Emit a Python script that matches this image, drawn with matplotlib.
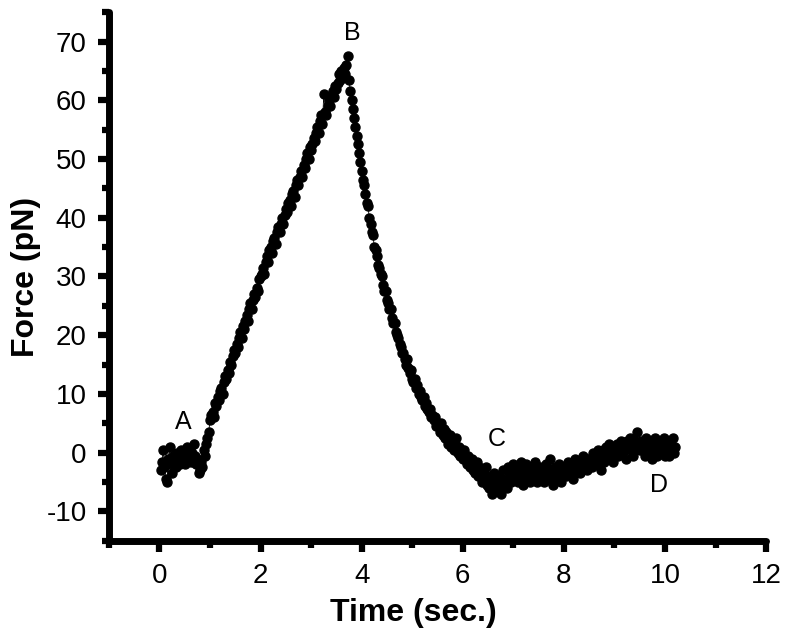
import numpy as np
import matplotlib
matplotlib.use('Agg')
import matplotlib.pyplot as plt
from matplotlib.ticker import MultipleLocator

plt.rcParams['font.family'] = ['Liberation Sans', 'DejaVu Sans']
plt.rcParams['axes.unicode_minus'] = False

# force trace (pN), sampled every 0.025 s starting at t = 0.025 s
dt = 0.025
force = [
    -3.0, -1.5, 0.5, -2.5, -4.5, -5.0, -1.0, 1.0, -2.0, -3.5, -0.5, -1.5, -2.5, 0.0, -1.0, -2.0, 0.5, -1.5, -0.5, -2.0,
    -0.5, 1.0, -1.0, 0.5, -1.5, 0.0, 1.5, -0.5, -2.0, -1.0, -3.5, -3.0, -1.5, -2.5, 0.5, -0.5, 1.5, 2.5, 3.5, 5.5,
    6.5, 7.0, 6.0, 8.5, 8.0, 9.5, 9.0, 10.5, 11.0, 10.0, 12.0, 13.0, 12.5, 14.0, 13.5, 15.5, 15.0, 16.5, 17.5, 17.0,
    18.5, 18.0, 19.5, 20.5, 19.5, 21.5, 21.0, 22.5, 23.5, 22.5, 24.5, 25.5, 24.5, 26.0, 27.0, 26.5, 28.0, 27.5, 29.5, 30.0,
    30.5, 31.5, 30.5, 32.5, 33.5, 32.5, 34.5, 35.0, 34.0, 36.0, 36.5, 35.5, 37.5, 38.5, 37.5, 39.0, 40.0, 39.0, 40.5, 41.5,
    41.0, 42.5, 43.0, 42.0, 44.0, 44.5, 43.5, 45.5, 46.5, 45.5, 47.0, 48.0, 47.0, 49.0, 48.5, 50.0, 51.0, 50.0, 52.0, 51.5,
    52.5, 53.5, 53.0, 54.5, 55.5, 54.5, 56.5, 57.5, 56.0, 61.0, 58.0, 57.5, 59.0, 60.0, 59.0, 60.5, 61.5, 60.5, 62.5, 62.0,
    63.0, 64.5, 63.5, 65.0, 64.0, 65.5, 64.5, 66.0, 67.5, 63.5, 61.5, 60.0, 58.5, 57.0, 55.5, 54.0, 52.5, 51.0, 49.5, 48.0,
    46.5, 45.5, 44.0, 42.5, 42.0, 40.0, 39.0, 37.5, 37.0, 35.0, 34.5, 33.5, 32.0, 31.5, 30.5, 30.0, 28.5, 27.5, 27.5, 26.0,
    25.5, 24.5, 24.5, 23.0, 22.0, 22.0, 20.5, 20.0, 19.5, 18.5, 18.0, 17.0, 17.0, 16.0, 15.0, 16.0, 14.5, 13.5, 14.0, 12.5,
    12.0, 12.5, 11.0, 11.5, 10.0, 10.5, 9.5, 9.0, 9.5, 8.0, 8.5, 7.5, 7.0, 7.5, 6.0, 6.5, 5.5, 6.0, 4.5, 5.0,
    4.5, 3.5, 5.0, 3.0, 4.0, 2.5, 3.5, 1.5, 2.5, 3.0, 1.0, 2.0, 0.5, 1.5, 2.5, 0.0, 1.0, -0.5, 0.5, -1.0,
    0.5, -1.0, -2.0, -0.5, -1.5, -2.5, -1.0, -3.0, -2.0, -3.5, -1.5, -4.0, -2.5, -3.0, -5.0, -3.5, -4.5, -2.5, -5.5, -4.0,
    -6.0, -4.5, -7.0, -5.5, -3.5, -6.5, -5.0, -4.0, -6.5, -7.0, -5.0, -3.0, -5.5, -4.5, -6.0, -2.5, -4.0, -5.0, -3.5, -2.0,
    -3.0, -4.5, -2.5, -5.0, -3.5, -1.5, -4.0, -5.5, -3.0, -2.0, -4.5, -3.5, -5.0, -2.5, -3.0, -4.0, -1.5, -3.5, -5.0, -4.0,
    -2.5, -4.0, -3.0, -5.0, -3.5, -2.0, -4.5, -3.0, -1.0, -3.5, -5.5, -4.0, -2.5, -3.0, -4.5, -2.0, -3.5, -5.0, -2.5, -3.0,
    -2.5, -4.0, -1.5, -3.0, -2.0, -3.5, -4.5, -2.0, -1.0, -3.0, -2.5, -1.5, -3.5, -2.0, -0.5, -2.5, -1.5, -3.0, -1.0, -2.0,
    -1.0, -2.5, 0.0, -1.5, -0.5, -2.0, 0.5, -1.0, -3.0, -0.5, 0.5, -1.5, 1.0, 0.0, -1.0, 1.5, -0.5, 0.5, -1.5, 0.0,
    0.5, 1.5, -0.5, 1.0, 2.0, 0.0, 1.5, 0.5, -1.0, 2.0, 1.0, 2.5, 0.5, 1.5, -0.5, 2.0, 1.0, 3.5, 1.5, 0.5,
    2.0, 0.5, 1.5, -0.5, 2.5, 1.0, 0.0, 2.0, 1.5, -1.0, 0.5, 2.5, 1.0, -0.5, 1.5, 2.0, 0.0, 1.0, 2.5, -0.5,
    1.0, 2.0, -0.5, 1.5, 0.5, 2.5, 0.0, 1.0,
]
time = dt * np.arange(1, len(force) + 1)

labels = ['A', 'B', 'C', 'D']
label_x = [0.47, 3.81, 6.68, 9.88]
label_y = [5.3, 71.5, 2.4, -5.5]

fig = plt.figure(figsize=(7.89, 6.4), dpi=100)
ax = fig.add_axes([0.138, 0.155, 0.833, 0.826])
ax.plot(time, force, '-', color='black', lw=0.6)
ax.plot(time, force, 'o', color='black', ms=6.5, mec='black')

for s, x, y in zip(labels, label_x, label_y):
    ax.text(x, y, s, fontsize=18, ha='center', va='center')

ax.set_xlim(-1, 12)
ax.set_ylim(-15, 75)
ax.xaxis.set_major_locator(MultipleLocator(2))
ax.xaxis.set_minor_locator(MultipleLocator(1))
ax.yaxis.set_major_locator(MultipleLocator(10))
ax.yaxis.set_minor_locator(MultipleLocator(5))
ax.set_yticks(range(-10, 71, 10))

for side in ('top', 'right'):
    ax.spines[side].set_visible(False)
for side in ('left', 'bottom'):
    ax.spines[side].set_linewidth(5)
    ax.spines[side].set_capstyle('round')

ax.tick_params(which='major', direction='out', length=8, width=4.5, labelsize=20, pad=8)
ax.tick_params(which='minor', direction='out', length=5, width=4.5)

ax.set_xlabel('Time (sec.)', fontsize=23, fontweight='bold')
ax.set_ylabel('Force (pN)', fontsize=23, fontweight='bold', labelpad=4)
ax.xaxis.set_label_coords(0.463, -0.108)

fig.savefig('out.png', dpi=100)
